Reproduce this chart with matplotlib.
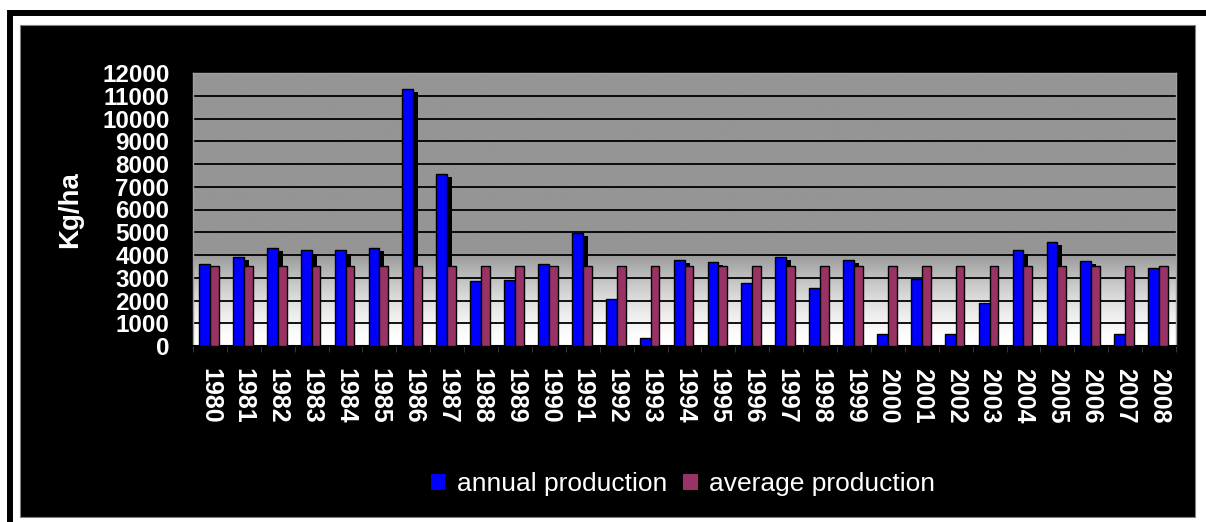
import numpy as np
import matplotlib
matplotlib.use("Agg")
import matplotlib.pyplot as plt
import matplotlib.patheffects as pe
from matplotlib.patches import Rectangle

years = [str(y) for y in range(1980, 2009)]
annual_production = [3600, 3900, 4300, 4200, 4200, 4300, 11300, 7550, 2850, 2900,
                     3600, 4950, 2080, 370, 3800, 3700, 2750, 3900, 2550, 3800,
                     530, 2940, 530, 1870, 4200, 4580, 3720, 530, 3420]
average_production = [3510] * len(years)
y_ticks = list(range(0, 12001, 1000))

BLUE = "#0000FF"
MAROON = "#993366"

plt.rcParams["font.family"] = ["Liberation Sans", "DejaVu Sans"]

fig = plt.figure(figsize=(12.06, 5.22), dpi=100)
fig.patch.set_facecolor("white")

W, H = 1206.0, 522.0
# outer frame line and black chart panel
fig.patches.append(Rectangle((10 / W, -0.2), 1.2, (H - 13) / H + 0.2, transform=fig.transFigure,
                             fill=False, edgecolor="black", linewidth=4.3, zorder=-2))
fig.patches.append(Rectangle((20 / W, 1 - 517 / H), (1195 - 20) / W, (517 - 25) / H,
                             transform=fig.transFigure, facecolor="black",
                             edgecolor="#808080", linewidth=0.8, zorder=-1))

ax = fig.add_axes([193 / W, 1 - 346 / H, (1176 - 193) / W, (346 - 73) / H])
ax.set_zorder(1)
ax.set_facecolor("none")

# vertical gray-to-white background of the plot area
v = np.linspace(12000, 0, 600)
shade = np.where(v >= 4100, 0.585, 1.0 - 0.415 * (v / 4100.0) ** 1.6)
grad = np.repeat(shade[:, None], 2, axis=1)
ax.imshow(grad, cmap="gray", vmin=0, vmax=1, aspect="auto",
          extent=(-0.5, len(years) - 0.5, 0, 12000), zorder=0, interpolation="bilinear")

x = np.arange(len(years))
shadow = [pe.SimplePatchShadow(offset=(3.6, -2.2), shadow_rgbFace="black", alpha=1.0), pe.Normal()]
b1 = ax.bar(x - 0.16, annual_production, width=0.32, color=BLUE, edgecolor="black",
            linewidth=1.0, zorder=3, label="annual production")
for p in b1:
    p.set_path_effects(shadow)
b2 = ax.bar(x + 0.13, average_production, width=0.26, color=MAROON, edgecolor="black",
            linewidth=1.0, zorder=4, label="average production")

ax.set_xlim(-0.5, len(years) - 0.5)
ax.set_ylim(0, 12000)
ax.set_yticks(y_ticks)
ax.set_yticklabels([str(t) for t in y_ticks], fontsize=17.5, fontweight="bold", color="white")
ax.set_xticks(x)
ax.set_xticklabels(years, rotation=270, fontsize=18, fontweight="bold", color="white",
                   va="top", ha="center")
ax.set_xticks(np.arange(-0.5, len(years)), minor=True)
ax.tick_params(axis="x", which="major", length=0, pad=16)
ax.tick_params(axis="x", which="minor", length=4, color="#404040")
ax.tick_params(axis="y", length=0, pad=17)

ax.yaxis.grid(True, color="black", linewidth=1.3, zorder=1)
ax.set_axisbelow(True)
for side in ("top", "right", "left"):
    ax.spines[side].set_color("#a0a0a0")
    ax.spines[side].set_linewidth(1.0)
ax.spines["bottom"].set_color("black")
ax.spines["bottom"].set_linewidth(1.5)

fig.text(70 / W, 1 - 210 / H, "Kg/ha", rotation=90, fontsize=20, fontweight="bold",
         color="white", ha="center", va="center")

leg = fig.legend(handles=[b1, b2], loc="center", bbox_to_anchor=(683 / W, 1 - 484 / H),
                 ncol=2, frameon=False, fontsize=19, labelcolor="white",
                 handlelength=0.55, handleheight=0.55, handletextpad=0.45, columnspacing=0.6)
for h in leg.legend_handles:
    h.set_edgecolor("none")
    h.set_path_effects([])

fig.savefig("out.png", dpi=100, facecolor=fig.get_facecolor())
